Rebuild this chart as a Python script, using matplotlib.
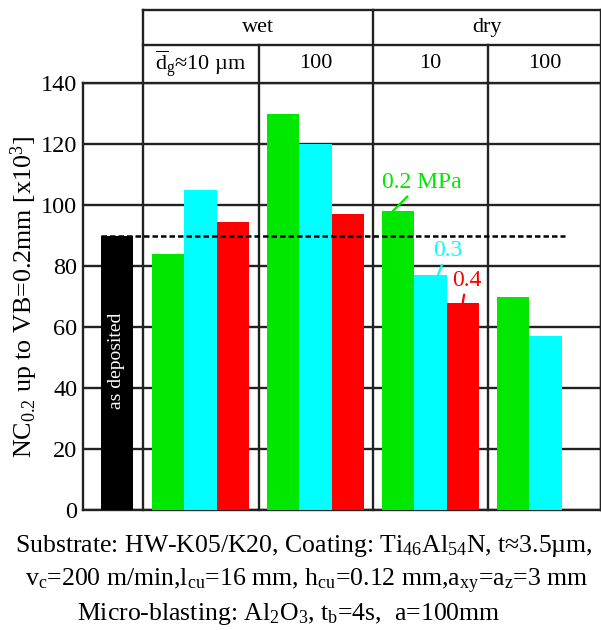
import matplotlib
matplotlib.use('Agg')
import matplotlib.pyplot as plt
import numpy as np

plt.rcParams['font.family'] = ['Liberation Serif', 'DejaVu Serif']
plt.rcParams['mathtext.fontset'] = 'custom'
plt.rcParams['mathtext.rm'] = 'Liberation Serif'
plt.rcParams['mathtext.it'] = 'Liberation Serif'
plt.rcParams['mathtext.default'] = 'rm'

# 数据
as_deposited = 90
media = ['wet', 'dry']
grain_sizes = [r'$\overline{\mathrm{d}}_\mathrm{g}$≈10 µm', '100', '10', '100']
pressures = ['0.2 MPa', '0.3', '0.4']
nc_p02 = [84, 130, 98, 70]
nc_p03 = [105, 120, 77, 57]
nc_p04 = [94.5, 97, 68, None]

# 颜色
c_green = '#00e800'
c_cyan = '#00ffff'
c_red = '#ff0000'
series = [(nc_p02, c_green), (nc_p03, c_cyan), (nc_p04, c_red)]

fig = plt.figure(figsize=(6.01, 6.30), dpi=100)
ax = fig.add_axes([83/601, 120/630, 518/601, 427/630])
ax.set_xlim(0, 16)
ax.set_ylim(0, 140)

# 分组位置
x0 = 1.05
centers = 3.63 + 3.55 * np.arange(len(grain_sizes))
dividers = [1.85, 5.43, 8.95, 12.5, 16.0]
row1, row2 = 152.5, 163.9

ax.bar([x0], [as_deposited], width=1.0, color='black', zorder=3)
for k, (vals, col) in enumerate(series):
    xs = [c + (k - 1) for c, v in zip(centers, vals) if v is not None]
    hs = [v for v in vals if v is not None]
    ax.bar(xs, hs, width=1.0, color=col, zorder=3)

# 参考虚线
ax.plot([0.55, 14.9], [as_deposited, as_deposited], color='black', lw=1.8,
        ls=(0, (2.2, 1.2)), zorder=4)

# 网格与坐标轴
ax.set_yticks(np.arange(0, 141, 20))
ax.set_xticks([])
ax.yaxis.grid(True, color='#222222', lw=1.7)
ax.set_axisbelow(True)
ax.tick_params(axis='y', length=0, pad=4, labelsize=17.5)
for s in ax.spines.values():
    s.set_linewidth(1.7)
    s.set_color('#222222')

# 分隔线与表头
for i, xd in enumerate(dividers[:-1]):
    top = row2 if i in (0, 2) else row1
    ax.plot([xd, xd], [0, top], color='#222222', lw=1.7, clip_on=False, zorder=2)
ax.plot([16, 16], [0, row2], color='#222222', lw=1.7, clip_on=False, zorder=2)
for yy in (row1, row2):
    ax.plot([dividers[0], 16], [yy, yy], color='#222222', lw=1.7, clip_on=False)

for j, m in enumerate(media):
    xm = (dividers[2 * j] + dividers[2 * j + 2]) / 2
    ax.text(xm, (row1 + row2) / 2, m, fontsize=16, ha='center', va='center')
for j, g in enumerate(grain_sizes):
    xm = (dividers[j] + dividers[j + 1]) / 2
    ax.text(xm, (140 + row1) / 2, g, fontsize=16, ha='center', va='center')

# 标注
ax.text(x0, 49, 'as deposited', color='white', rotation=90, fontsize=14,
        ha='center', va='center', zorder=5)
lab_pos = [(10.46, 107.5), (11.27, 85.2), (11.85, 75.4)]
lab_tip = [(9.57, nc_p02[2]), (10.96, nc_p03[2]), (11.73, nc_p04[2])]
for (lbl, (tx, ty), (px, py), (_, col)) in zip(pressures, lab_pos, lab_tip, series):
    ax.annotate(lbl, xy=(px, py), xytext=(tx, ty), color=col, fontsize=17,
                ha='center', va='center',
                arrowprops=dict(arrowstyle='-', color=col, lw=1.6, shrinkA=1, shrinkB=0))

fig.text(0.040, 1 - 297/630, r'NC$_{0.2}$ up to VB=0.2mm [x10$^{3}$]',
         rotation=90, fontsize=18.7, ha='center', va='center')

fig.text(0.505, 1 - 546/630, r'Substrate: HW-K05/K20, Coating: Ti$_{46}$Al$_{54}$N, t≈3.5µm,',
         fontsize=18.5, ha='center', va='center')
fig.text(0.51, 1 - 581/630, r'v$_{c}$=200 m/min,l$_{cu}$=16 mm, h$_{cu}$=0.12 mm,a$_{xy}$=a$_{z}$=3 mm',
         fontsize=18.5, ha='center', va='center')
fig.text(0.48, 1 - 614/630, r'Micro-blasting: Al$_{2}$O$_{3}$, t$_{b}$=4s,  a=100mm',
         fontsize=18.5, ha='center', va='center')

fig.savefig('out.png', dpi=100, facecolor='white')
